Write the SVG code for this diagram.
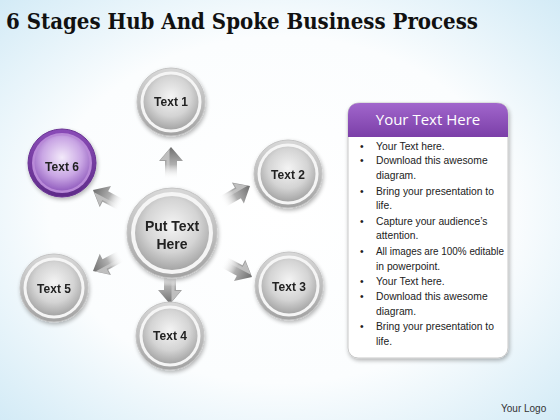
<svg xmlns="http://www.w3.org/2000/svg" width="560" height="420" viewBox="0 0 560 420">
<defs>
<radialGradient id="bg" cx="50%" cy="50%" r="75%">
<stop offset="0" stop-color="#ffffff"/>
<stop offset="0.55" stop-color="#fbfdfe"/>
<stop offset="1" stop-color="#cde8f5"/>
</radialGradient>
<linearGradient id="ringG" x1="0" y1="0" x2="0" y2="1">
<stop offset="0" stop-color="#d8d8d8"/>
<stop offset="1" stop-color="#a2a2a2"/>
</linearGradient>
<radialGradient id="coreG" cx="50%" cy="40%" r="60%">
<stop offset="0" stop-color="#f4f4f4"/>
<stop offset="0.6" stop-color="#d4d4d4"/>
<stop offset="1" stop-color="#a5a5a5"/>
</radialGradient>
<linearGradient id="ringP" x1="0" y1="0" x2="0" y2="1">
<stop offset="0" stop-color="#8a4cb8"/>
<stop offset="1" stop-color="#5e2b88"/>
</linearGradient>
<radialGradient id="coreP" cx="50%" cy="40%" r="60%">
<stop offset="0" stop-color="#f3eafa"/>
<stop offset="0.6" stop-color="#c9a6e4"/>
<stop offset="1" stop-color="#9460c0"/>
</radialGradient>
<linearGradient id="arrG" gradientUnits="userSpaceOnUse" x1="-32" y1="0" x2="0" y2="0">
<stop offset="0" stop-color="#ffffff" stop-opacity="0"/>
<stop offset="0.45" stop-color="#b0b0b0"/>
<stop offset="1" stop-color="#6e6e6e"/>
</linearGradient>
<linearGradient id="arrH" gradientUnits="userSpaceOnUse" x1="-32" y1="0" x2="0" y2="0">
<stop offset="0" stop-color="#ffffff" stop-opacity="0"/>
<stop offset="1" stop-color="#e4e4e4"/>
</linearGradient>
<linearGradient id="hdrG" x1="0" y1="0" x2="0" y2="1">
<stop offset="0" stop-color="#a166cc"/>
<stop offset="1" stop-color="#7b3fa8"/>
</linearGradient>
<filter id="sh" x="-20%" y="-20%" width="140%" height="140%">
<feGaussianBlur in="SourceAlpha" stdDeviation="2"/>
<feOffset dx="1" dy="2"/>
<feComponentTransfer><feFuncA type="linear" slope="0.3"/></feComponentTransfer>
<feMerge><feMergeNode/><feMergeNode in="SourceGraphic"/></feMerge>
</filter>
<g id="arrow">
<path d="M0,0 L-14,-12 L-14,-6 L-32,-6 L-32,6 L-14,6 L-14,12 Z" fill="url(#arrG)"/>
<path d="M-2,-1.5 L-13,-10.5 L-13,-4.5 L-32,-4.5 L-32,-1.5 Z" fill="url(#arrH)" opacity="0.7"/>
</g>
</defs>
<style>
.title{font-family:"DejaVu Serif","Liberation Serif",serif;font-weight:bold;font-size:22px;fill:#111}
.lbl{font-family:"Liberation Sans","Noto Sans",sans-serif;font-weight:bold;font-size:12px;fill:#222;text-anchor:middle}
.hub{font-family:"Liberation Sans","Noto Sans",sans-serif;font-weight:bold;font-size:14px;fill:#222;text-anchor:middle}
.hdr{font-family:"Open Sans","Liberation Sans",sans-serif;font-size:15px;fill:#fff;text-anchor:middle}
.bl{font-family:"Liberation Sans","Noto Sans",sans-serif;font-size:10.3px;fill:#222}
.logo{font-family:"Liberation Sans","Noto Sans",sans-serif;font-size:10px;fill:#333}
</style>
<rect width="560" height="420" fill="url(#bg)"/>
<text class="title" x="6" y="29" textLength="472" lengthAdjust="spacingAndGlyphs">6 Stages Hub And Spoke Business Process</text>

<g id="connectors">
<use href="#arrow" transform="translate(171,147) rotate(-90)"/>
<use href="#arrow" transform="translate(250,186) rotate(-30)"/>
<use href="#arrow" transform="translate(252,277) rotate(28)"/>
<use href="#arrow" transform="translate(170,304) rotate(90)"/>
<use href="#arrow" transform="translate(93,271) rotate(152)"/>
<use href="#arrow" transform="translate(93,190) rotate(-152)"/>
</g>

<g id="hub" filter="url(#sh)">
<circle cx="172" cy="233" r="45" fill="url(#ringG)" stroke="#c4c4c4"/>
<circle cx="172" cy="233" r="41" fill="#f5f5f5"/>
<circle cx="172" cy="233" r="37" fill="url(#coreG)"/>
<text class="hub" x="172" y="231">Put Text</text>
<text class="hub" x="172" y="249">Here</text>
</g>
<g id="n1" filter="url(#sh)">
<circle cx="171" cy="102" r="34" fill="url(#ringG)" stroke="#c4c4c4"/>
<circle cx="171" cy="102" r="30.5" fill="#f5f5f5"/>
<circle cx="171" cy="102" r="27.5" fill="url(#coreG)"/>
<text class="lbl" x="171" y="106">Text 1</text>
</g>
<g id="n2" filter="url(#sh)">
<circle cx="288" cy="174" r="34" fill="url(#ringG)" stroke="#c4c4c4"/>
<circle cx="288" cy="174" r="30.5" fill="#f5f5f5"/>
<circle cx="288" cy="174" r="27.5" fill="url(#coreG)"/>
<text class="lbl" x="288" y="179">Text 2</text>
</g>
<g id="n3" filter="url(#sh)">
<circle cx="289" cy="286" r="34" fill="url(#ringG)" stroke="#c4c4c4"/>
<circle cx="289" cy="286" r="30.5" fill="#f5f5f5"/>
<circle cx="289" cy="286" r="27.5" fill="url(#coreG)"/>
<text class="lbl" x="289" y="291">Text 3</text>
</g>
<g id="n4" filter="url(#sh)">
<circle cx="170" cy="336" r="34" fill="url(#ringG)" stroke="#c4c4c4"/>
<circle cx="170" cy="336" r="30.5" fill="#f5f5f5"/>
<circle cx="170" cy="336" r="27.5" fill="url(#coreG)"/>
<text class="lbl" x="170" y="340">Text 4</text>
</g>
<g id="n5" filter="url(#sh)">
<circle cx="54" cy="288" r="34" fill="url(#ringG)" stroke="#c4c4c4"/>
<circle cx="54" cy="288" r="30.5" fill="#f5f5f5"/>
<circle cx="54" cy="288" r="27.5" fill="url(#coreG)"/>
<text class="lbl" x="54" y="293">Text 5</text>
</g>
<g id="n6" filter="url(#sh)">
<circle cx="62" cy="163" r="34" fill="url(#ringP)" stroke="#6a3494"/>
<circle cx="62" cy="163" r="30" fill="#b98ad8"/>
<circle cx="62" cy="163" r="27.5" fill="url(#coreP)"/>
<text class="lbl" x="62" y="171">Text 6</text>
</g>

<g id="panel">
<rect x="348" y="103" width="160" height="255" rx="10" fill="#ffffff" stroke="#c8c8c8" filter="url(#sh)"/>
<path d="M360,103 H496 Q508,103 508,115 V137 H348 V115 Q348,103 360,103 Z" fill="url(#hdrG)"/>
<text class="hdr" x="428" y="125">Your Text Here</text>
<g class="bl">
<text x="360" y="150">•</text><text x="376" y="150">Your Text here.</text>
<text x="360" y="164">•</text><text x="376" y="164">Download this awesome</text>
<text x="376" y="179">diagram.</text>
<text x="360" y="195">•</text><text x="376" y="195">Bring your presentation to</text>
<text x="376" y="209">life.</text>
<text x="360" y="225">•</text><text x="376" y="225">Capture your audience’s</text>
<text x="376" y="239">attention.</text>
<text x="360" y="255">•</text><text x="376" y="255" textLength="128" lengthAdjust="spacingAndGlyphs">All images are 100% editable</text>
<text x="376" y="270">in powerpoint.</text>
<text x="360" y="285">•</text><text x="376" y="285">Your Text here.</text>
<text x="360" y="300">•</text><text x="376" y="300">Download this awesome</text>
<text x="376" y="315">diagram.</text>
<text x="360" y="330">•</text><text x="376" y="330">Bring your presentation to</text>
<text x="376" y="345">life.</text>
</g>
</g>
<text class="logo" x="501" y="412">Your Logo</text>
</svg>
